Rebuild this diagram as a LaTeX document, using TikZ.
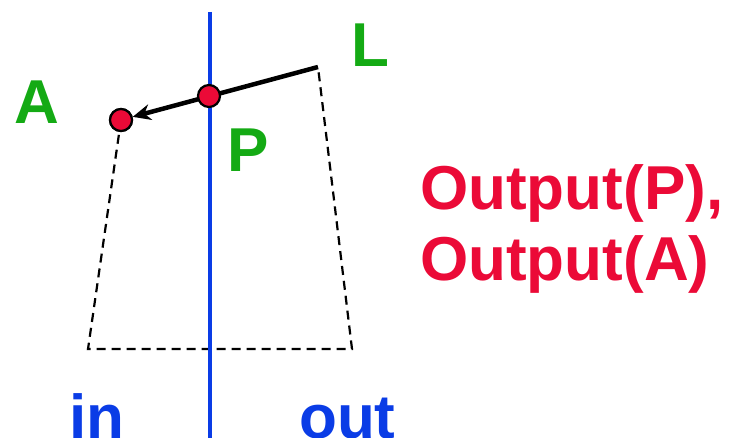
\documentclass[tikz,border=0pt]{standalone}
\usepackage{fontspec}
\setmainfont{Liberation Sans}
\usetikzlibrary{arrows.meta}
\definecolor{cgreen}{RGB}{20,170,20}
\definecolor{cred}{RGB}{235,10,55}
\definecolor{cblue}{RGB}{10,60,230}
\begin{document}
\begin{tikzpicture}[x=1pt,y=-1pt,
  dot/.style={circle,draw=black,line width=2.2pt,fill=cred,minimum size=22pt,inner sep=0pt},
  lab/.style={font=\fontsize{62}{62}\selectfont\bfseries,inner sep=0pt},
  dash line/.style={draw=black,line width=2.2pt,dash pattern=on 9pt off 6pt}]
\useasboundingbox (0,0) rectangle (736,438);
\coordinate (L) at (318,67);
\coordinate (BL) at (88,349);
\coordinate (BR) at (352,349);
\coordinate (top) at (210,12);
\coordinate (bot) at (210,438);
\node[dot] (A) at (121,120) {};
\draw[dash line] (A.center) -- (BL) -- (BR) -- (L);
\draw[cblue,line width=4.5pt] (top) -- (bot);
\draw[line width=4.5pt,-{Stealth[length=18pt,width=16pt]}] (L) -- (A);
\node[dot] (P) at (209,96) {};
\node[dot] at (A) {};
\node[lab,text=cgreen] (tA) at (37,102) {A};
\node[lab,text=cgreen] (tL) at (370,45) {L};
\node[lab,text=cgreen] (tP) at (248,150) {P};
\node[lab,text=cblue,anchor=base west] (tin) at (69,438) {in};
\node[lab,text=cblue,anchor=base west] (tout) at (299,438) {out};
\node[lab,text=cred,anchor=base west] (o1) at (420,210) {Output(P),};
\node[lab,text=cred,anchor=base west] (o2) at (420,280) {Output(A)};
\end{tikzpicture}
\end{document}
